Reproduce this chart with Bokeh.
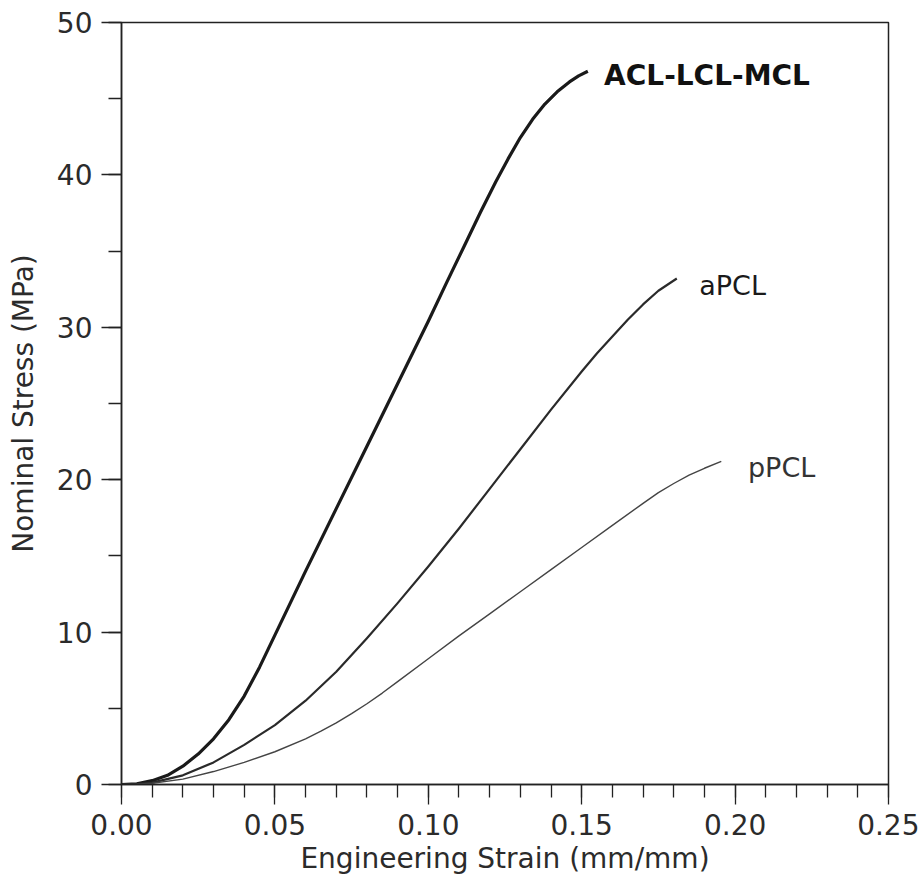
from bokeh.plotting import figure
from bokeh.models import Range1d, SingleIntervalTicker, PrintfTickFormatter, ColumnDataSource
from bokeh.embed import file_html
from bokeh.resources import INLINE
from bokeh.core.properties import value

# ---- data ----
acl_x = [0, 0.005, 0.010, 0.015, 0.020, 0.025, 0.030, 0.035, 0.040, 0.045, 0.050, 0.055,
         0.060, 0.065, 0.070, 0.080, 0.090, 0.100, 0.106, 0.112, 0.117, 0.122, 0.126,
         0.130, 0.134, 0.138, 0.142, 0.146, 0.149, 0.152]
acl_y = [0, 0.05, 0.25, 0.6, 1.2, 2.0, 3.0, 4.25, 5.8, 7.7, 9.8, 11.9,
         14.0, 16.05, 18.1, 22.2, 26.3, 30.4, 32.95, 35.45, 37.55, 39.55, 41.05,
         42.45, 43.65, 44.65, 45.45, 46.1, 46.5, 46.8]

apcl_x = [0, 0.005, 0.010, 0.020, 0.030, 0.040, 0.050, 0.060, 0.070, 0.080, 0.090,
          0.100, 0.110, 0.120, 0.130, 0.140, 0.150, 0.155, 0.160, 0.165, 0.170, 0.175, 0.181]
apcl_y = [0, 0.03, 0.12, 0.6, 1.45, 2.6, 3.9, 5.5, 7.4, 9.6, 11.9,
          14.3, 16.8, 19.4, 22.0, 24.6, 27.1, 28.3, 29.4, 30.5, 31.5, 32.4, 33.2]

ppcl_x = [0, 0.005, 0.010, 0.020, 0.030, 0.040, 0.050, 0.060, 0.065, 0.070, 0.075,
          0.080, 0.085, 0.090, 0.100, 0.110, 0.120, 0.130, 0.140, 0.150, 0.160, 0.170,
          0.175, 0.180, 0.185, 0.190, 0.1955]
ppcl_y = [0, 0.02, 0.08, 0.35, 0.85, 1.45, 2.15, 3.0, 3.5, 4.05, 4.65,
          5.3, 6.0, 6.75, 8.25, 9.75, 11.2, 12.65, 14.1, 15.55, 17.0, 18.45,
          19.15, 19.75, 20.3, 20.75, 21.2]

label_text = ["ACL-LCL-MCL", "aPCL", "pPCL"]
label_x = [0.1573, 0.1883, 0.2042]
label_y = [46.55, 32.76, 20.81]

x_title = "Engineering Strain (mm/mm)"
y_title = "Nominal Stress (MPa)"

FONT = "DejaVu Sans"
TXT = "#2b2b2b"

p = figure(width=919, height=888, output_backend="svg", toolbar_location=None,
           x_range=Range1d(0, 0.25), y_range=Range1d(0, 50),
           min_border_left=121, min_border_right=31, min_border_top=22, min_border_bottom=104)

p.xgrid.visible = False
p.ygrid.visible = False
p.outline_line_color = "#222222"
p.outline_line_width = 1.5
p.background_fill_color = "white"
p.border_fill_color = "white"

p.line(acl_x, acl_y, line_color="#1a1a1a", line_width=3.2, line_join="round")
p.line(apcl_x, apcl_y, line_color="#2a2a2a", line_width=2.2, line_join="round")
p.line(ppcl_x, ppcl_y, line_color="#444444", line_width=1.4, line_join="round")

src = ColumnDataSource(dict(x=label_x, y=label_y, t=label_text,
                            st=["bold", "normal", "normal"],
                            sz=["28px", "27px", "27px"],
                            c=["#111111", "#1a1a1a", "#333333"]))
p.text(x="x", y="y", text="t", source=src, text_font=value(FONT),
       text_font_style="st", text_font_size="sz", text_color="c",
       text_align="left", text_baseline="alphabetic")

p.xaxis.ticker = SingleIntervalTicker(interval=0.05, num_minor_ticks=5)
p.yaxis.ticker = SingleIntervalTicker(interval=10, num_minor_ticks=2)
p.xaxis.formatter = PrintfTickFormatter(format="%.2f")
p.yaxis.formatter = PrintfTickFormatter(format="%d")

for ax in (p.xaxis[0], p.yaxis[0]):
    ax.axis_line_color = "#222222"
    ax.axis_line_width = 1.5
    ax.major_tick_line_color = "#222222"
    ax.minor_tick_line_color = "#222222"
    ax.major_tick_line_width = 1.3
    ax.minor_tick_line_width = 1.3
    ax.major_tick_out = 20
    ax.major_tick_in = 0
    ax.minor_tick_out = 13
    ax.minor_tick_in = 0
    ax.major_label_text_font = FONT
    ax.major_label_text_font_size = "28px"
    ax.major_label_text_color = TXT
    ax.major_label_standoff = 9
    ax.axis_label_text_font = FONT
    ax.axis_label_text_font_size = "28px"
    ax.axis_label_text_font_style = "normal"
    ax.axis_label_text_color = TXT

p.xaxis.axis_label = x_title
p.yaxis.axis_label = y_title
p.xaxis.axis_label_standoff = 4
p.yaxis.axis_label_standoff = 14

open("out.html", "w").write(file_html(p, INLINE))
